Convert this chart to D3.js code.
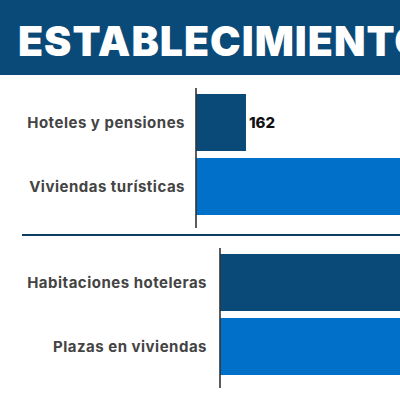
<!DOCTYPE html>
<html>
<head>
<meta charset="utf-8">
<script src="https://cdn.jsdelivr.net/npm/d3@7"></script>
<style>
  html, body { margin: 0; padding: 0; background: #fff; overflow: hidden; }
  svg { display: block; }
</style>
</head>
<body>
<svg id="chart"></svg>
<script>
// establecimientos.js

var titleText = "ESTABLECIMIENTOS TURÍSTICOS";

// group 1: establecimientos
var estCategories = ["Hoteles y pensiones", "Viviendas turísticas"];
var estValues = [162, 1180];

// group 2: plazas
var plazaCategories = ["Habitaciones hoteleras", "Plazas en viviendas"];
var plazaValues = [9000, 11500];

const chartW = 400,
    chartH = 400,
    headerH = 75,
    darkBlue = "#0a4a78",
    lightBlue = "#0070c9",
    labelGrey = "#444";

var svg = d3.select("#chart")
    .attr("width", chartW)
    .attr("height", chartH);

// Header band
svg.append("rect")
    .attr("x", 0).attr("y", 0)
    .attr("width", chartW).attr("height", headerH)
    .attr("fill", darkBlue);
svg.append("text")
    .attr("x", 18)
    .attr("y", 56)
    .attr("fill", "#fff")
    .style("font-family", "Inter, sans-serif")
    .style("font-weight", 900)
    .style("font-size", "41px")
    .style("letter-spacing", "1px")
    .text(titleText);

// Separator between groups
svg.append("line")
    .attr("x1", 22).attr("x2", chartW)
    .attr("y1", 235).attr("y2", 235)
    .attr("stroke", "#0d3d60")
    .attr("stroke-width", 2);

function drawGroup(categories, values, opts) {
    var xScale = d3.scaleLinear()
        .domain([0, opts.maxX])
        .range([opts.axisX, opts.axisX + opts.xLen]);
    var yScale = d3.scaleBand()
        .domain(categories)
        .range(opts.yRange)
        .paddingInner(0.109)
        .paddingOuter(0);
    var colors = [darkBlue, lightBlue];

    var g = svg.append("g");

    g.selectAll(".bar")
        .data(values)
        .enter()
        .append("rect")
        .attr("class", "bar")
        .attr("x", xScale(0))
        .attr("y", function(d, i) {return yScale(categories[i]);})
        .attr("width", function(d) {return xScale(d) - xScale(0);})
        .attr("height", yScale.bandwidth())
        .attr("fill", function(d, i) {return colors[i];});

    // Value labels
    g.selectAll(".val")
        .data(values)
        .enter()
        .append("text")
        .attr("class", "val")
        .attr("x", function(d) {return xScale(d) + 3;})
        .attr("y", function(d, i) {return yScale(categories[i]) + yScale.bandwidth() / 2;})
        .attr("dy", "0.35em")
        .style("font-family", "Inter, sans-serif")
        .style("font-weight", 800)
        .style("font-size", "15px")
        .attr("fill", "#111")
        .text(function(d) {return d3.format(",")(d).replace(/,/g, ".");});

    // Category labels
    g.selectAll(".cat")
        .data(categories)
        .enter()
        .append("text")
        .attr("class", "cat")
        .attr("x", opts.labelX)
        .attr("y", function(d) {return yScale(d) + yScale.bandwidth() / 2;})
        .attr("dy", "0.35em")
        .attr("text-anchor", "end")
        .style("font-family", "Inter, sans-serif")
        .style("font-weight", 700)
        .style("font-size", "15px")
        .style("letter-spacing", "0.5px")
        .attr("fill", labelGrey)
        .text(function(d) {return d;});

    // Axis line
    g.append("line")
        .attr("x1", opts.axisX).attr("x2", opts.axisX)
        .attr("y1", opts.yRange[0] - 6).attr("y2", opts.yRange[1] + 13)
        .attr("stroke", "#333")
        .attr("stroke-width", 1.6);
}

drawGroup(estCategories, estValues, {
    maxX: 1300, axisX: 196, xLen: 401, yRange: [94, 215], labelX: 185
});
drawGroup(plazaCategories, plazaValues, {
    maxX: 12000, axisX: 220, xLen: 400, yRange: [254, 375], labelX: 207
});
</script>
</body>
</html>
